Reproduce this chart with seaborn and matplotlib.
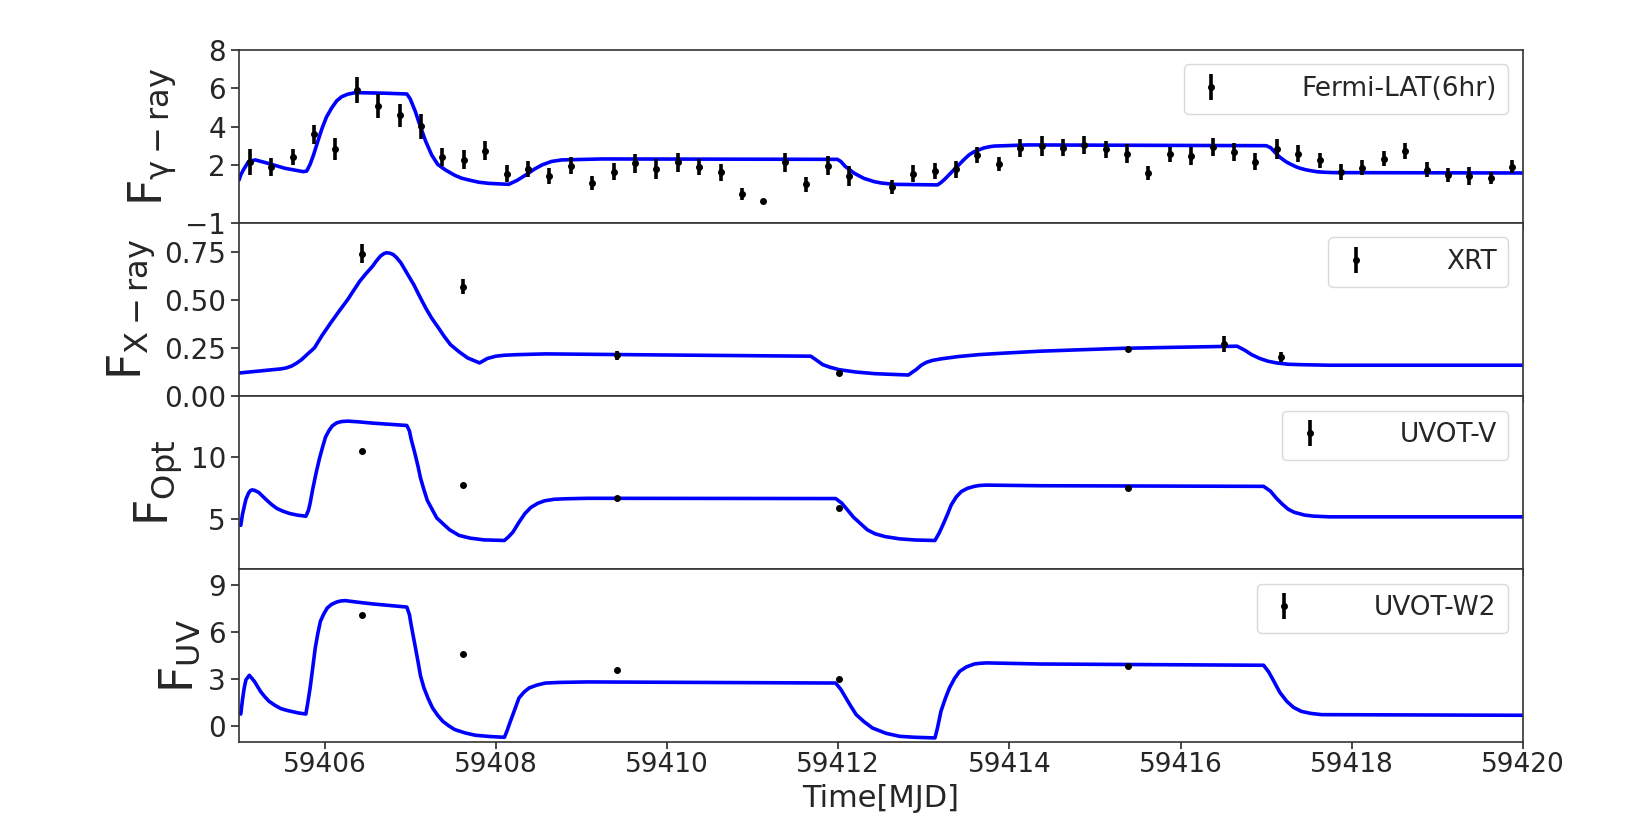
import matplotlib
matplotlib.use("Agg")
import matplotlib.pyplot as plt
import matplotlib.ticker as mticker
import seaborn as sns
import pandas as pd

# ---------------- data ----------------
fermi_t = [59405.125, 59405.375, 59405.625, 59405.875, 59406.125, 59406.375, 59406.625, 59406.875,
           59407.125, 59407.375, 59407.625, 59407.875, 59408.125, 59408.375, 59408.625, 59408.875,
           59409.125, 59409.375, 59409.625, 59409.875, 59410.125, 59410.375, 59410.625, 59410.875,
           59411.125, 59411.375, 59411.625, 59411.875, 59412.125, 59412.625, 59412.875,
           59413.125, 59413.375, 59413.625, 59413.875, 59414.125, 59414.375, 59414.625, 59414.875,
           59415.125, 59415.375, 59415.625, 59415.875, 59416.125, 59416.375, 59416.625, 59416.875,
           59417.125, 59417.375, 59417.625, 59417.875, 59418.125, 59418.375, 59418.625, 59418.875,
           59419.125, 59419.375, 59419.625, 59419.875]
fermi_f = [2.19, 1.90, 2.45, 3.61, 2.85, 5.92, 5.09, 4.60,
           4.03, 2.42, 2.30, 2.76, 1.57, 1.81, 1.44, 1.98,
           1.08, 1.67, 2.10, 1.79, 2.16, 1.91, 1.63, 0.52,
           0.13, 2.16, 1.01, 1.98, 1.44, 0.89, 1.57,
           1.70, 1.79, 2.54, 2.07, 2.88, 3.00, 2.92, 3.08,
           2.83, 2.61, 1.60, 2.57, 2.48, 2.95, 2.71, 2.19,
           2.85, 2.61, 2.26, 1.67, 1.88, 2.35, 2.75, 1.77,
           1.50, 1.46, 1.32, 1.93]
fermi_e = [0.68, 0.46, 0.42, 0.50, 0.59, 0.69, 0.64, 0.59,
           0.64, 0.47, 0.50, 0.48, 0.42, 0.40, 0.42, 0.43,
           0.38, 0.43, 0.50, 0.52, 0.49, 0.44, 0.45, 0.32,
           0.05, 0.49, 0.38, 0.50, 0.50, 0.36, 0.45,
           0.42, 0.43, 0.41, 0.35, 0.47, 0.50, 0.45, 0.47,
           0.45, 0.50, 0.35, 0.40, 0.45, 0.47, 0.47, 0.43,
           0.50, 0.43, 0.40, 0.42, 0.38, 0.40, 0.42, 0.40,
           0.38, 0.47, 0.31, 0.33]

swift_t = [59406.44, 59407.62, 59409.42, 59412.01, 59415.39, 59416.51, 59417.17]
xrt_f = [0.740, 0.569, 0.212, 0.118, 0.245, 0.271, 0.201]
xrt_e = [0.049, 0.038, 0.024, 0.015, 0.010, 0.040, 0.026]

uvot_t = [59406.44, 59407.62, 59409.42, 59412.01, 59415.39]
v_f = [10.49, 7.77, 6.74, 5.92, 7.50]
v_e = [0.15, 0.12, 0.10, 0.10, 0.10]
w2_f = [7.08, 4.58, 3.56, 2.99, 3.81]
w2_e = [0.10, 0.08, 0.07, 0.07, 0.07]

# model curves
mg_t = [59405.00, 59405.02, 59405.05, 59405.11, 59405.19, 59405.34, 59405.54, 59405.75, 59405.79,
        59405.83, 59405.87, 59405.92, 59405.97, 59406.02, 59406.08, 59406.14, 59406.20, 59406.27,
        59406.36, 59406.71, 59406.96, 59407.00, 59407.06, 59407.10, 59407.14, 59407.18, 59407.25,
        59407.32, 59407.41, 59407.52, 59407.60, 59407.68, 59407.80, 59407.92, 59408.15, 59408.25,
        59408.35, 59408.45, 59408.54, 59408.65, 59408.77, 59409.24, 59411.99, 59412.03, 59412.08,
        59412.13, 59412.19, 59412.30, 59412.42, 59412.50, 59412.65, 59413.16, 59413.20, 59413.25,
        59413.35, 59413.40, 59413.47, 59413.53, 59413.59, 59413.70, 59413.76, 59413.82, 59414.21,
        59417.00, 59417.05, 59417.12, 59417.16, 59417.23, 59417.28, 59417.35, 59417.40, 59417.47,
        59417.52, 59417.60, 59417.68, 59417.78, 59420.00]
mg_f = [1.24, 1.50, 1.76, 2.19, 2.28, 2.10, 1.84, 1.67, 1.70,
        2.05, 2.54, 3.25, 3.93, 4.50, 4.97, 5.35, 5.57, 5.70,
        5.78, 5.75, 5.71, 5.45, 4.79, 4.25, 3.75, 3.25, 2.54,
        2.05, 1.76, 1.48, 1.33, 1.24, 1.12, 1.06, 1.01, 1.22,
        1.50, 1.80, 2.02, 2.20, 2.28, 2.33, 2.31, 2.20, 1.95,
        1.78, 1.58, 1.32, 1.15, 1.08, 1.01, 0.98, 1.10, 1.30,
        1.76, 1.98, 2.30, 2.55, 2.71, 2.90, 2.96, 3.00, 3.06,
        3.02, 2.92, 2.60, 2.42, 2.19, 2.07, 1.92, 1.84, 1.76,
        1.72, 1.66, 1.64, 1.62, 1.60]

mx_t = [59405.01, 59405.49, 59405.55, 59405.61, 59405.67, 59405.73, 59405.80, 59405.88, 59405.97,
        59406.07, 59406.17, 59406.27, 59406.34, 59406.41, 59406.48, 59406.56, 59406.60, 59406.65,
        59406.69, 59406.72, 59406.76, 59406.80, 59406.84, 59406.89, 59406.96, 59407.04, 59407.11,
        59407.18, 59407.25, 59407.33, 59407.40, 59407.47, 59407.57, 59407.67, 59407.74, 59407.81,
        59407.90, 59408.00, 59408.10, 59408.25, 59408.58, 59409.79, 59411.68, 59411.75, 59411.82,
        59411.90, 59412.01, 59412.20, 59412.43, 59412.82, 59412.87, 59412.91, 59412.97, 59413.03,
        59413.10, 59413.20, 59413.40, 59413.64, 59413.90, 59414.36, 59414.80, 59415.33, 59415.90,
        59416.66, 59416.75, 59416.83, 59416.92, 59417.02, 59417.12, 59417.26, 59417.40, 59417.74,
        59420.00]
mx_f = [0.120, 0.141, 0.146, 0.155, 0.170, 0.189, 0.218, 0.250, 0.315,
        0.380, 0.442, 0.502, 0.550, 0.597, 0.635, 0.675, 0.700, 0.727,
        0.740, 0.745, 0.743, 0.736, 0.720, 0.693, 0.640, 0.580, 0.518,
        0.458, 0.405, 0.354, 0.308, 0.267, 0.230, 0.198, 0.185, 0.172,
        0.195, 0.207, 0.212, 0.215, 0.219, 0.214, 0.207, 0.185, 0.163,
        0.150, 0.137, 0.125, 0.116, 0.109, 0.125, 0.137, 0.160, 0.175,
        0.185, 0.193, 0.205, 0.215, 0.222, 0.233, 0.240, 0.248, 0.253,
        0.259, 0.238, 0.215, 0.196, 0.181, 0.172, 0.165, 0.163, 0.160,
        0.160]

mo_t = [59405.02, 59405.04, 59405.06, 59405.08, 59405.11, 59405.13, 59405.15, 59405.18, 59405.23,
        59405.27, 59405.32, 59405.38, 59405.44, 59405.51, 59405.59, 59405.68, 59405.78, 59405.81,
        59405.83, 59405.86, 59405.90, 59405.94, 59405.98, 59406.01, 59406.05, 59406.09, 59406.14,
        59406.20, 59406.27, 59406.40, 59406.56, 59406.75, 59406.96, 59406.99, 59407.01, 59407.05,
        59407.09, 59407.12, 59407.16, 59407.20, 59407.26, 59407.31, 59407.38, 59407.46, 59407.57,
        59407.70, 59407.86, 59408.10, 59408.15, 59408.20, 59408.27, 59408.34, 59408.41, 59408.49,
        59408.57, 59408.68, 59408.80, 59409.07, 59411.97, 59412.04, 59412.11, 59412.18, 59412.26,
        59412.34, 59412.43, 59412.55, 59412.72, 59412.90, 59413.13, 59413.18, 59413.23, 59413.28,
        59413.32, 59413.38, 59413.44, 59413.51, 59413.59, 59413.65, 59413.73, 59414.36, 59416.97,
        59417.05, 59417.12, 59417.19, 59417.26, 59417.33, 59417.45, 59417.55, 59417.74, 59420.00]
mo_f = [4.51, 5.40, 6.01, 6.60, 7.09, 7.28, 7.36, 7.32, 7.15,
        6.88, 6.55, 6.18, 5.87, 5.65, 5.46, 5.33, 5.24, 5.70,
        6.28, 7.40, 8.72, 9.90, 10.90, 11.60, 12.12, 12.50, 12.74,
        12.85, 12.88, 12.82, 12.72, 12.63, 12.53, 12.10, 11.44, 10.40,
        9.27, 8.30, 7.36, 6.50, 5.73, 5.10, 4.65, 4.15, 3.70,
        3.48, 3.34, 3.29, 3.60, 3.97, 4.75, 5.46, 5.95, 6.28,
        6.48, 6.60, 6.64, 6.68, 6.66, 6.30, 5.73, 5.15, 4.65,
        4.15, 3.83, 3.60, 3.42, 3.33, 3.29, 3.90, 4.65, 5.45,
        6.14, 6.80, 7.23, 7.48, 7.64, 7.71, 7.74, 7.69, 7.64,
        7.25, 6.68, 6.20, 5.79, 5.55, 5.33, 5.25, 5.19, 5.19]

mu_t = [59405.02, 59405.04, 59405.06, 59405.08, 59405.12, 59405.18, 59405.25, 59405.30, 59405.35,
        59405.42, 59405.49, 59405.56, 59405.64, 59405.70, 59405.78, 59405.80, 59405.83, 59405.86,
        59405.89, 59405.92, 59405.95, 59405.99, 59406.03, 59406.08, 59406.14, 59406.19, 59406.24,
        59406.40, 59406.56, 59406.76, 59406.96, 59406.99, 59407.01, 59407.05, 59407.09, 59407.12,
        59407.16, 59407.21, 59407.26, 59407.32, 59407.38, 59407.45, 59407.52, 59407.64, 59407.76,
        59407.93, 59408.10, 59408.13, 59408.17, 59408.22, 59408.27, 59408.33, 59408.39, 59408.48,
        59408.58, 59408.75, 59409.07, 59411.97, 59412.03, 59412.09, 59412.15, 59412.21, 59412.30,
        59412.40, 59412.56, 59412.72, 59412.90, 59413.13, 59413.16, 59413.20, 59413.25, 59413.30,
        59413.36, 59413.42, 59413.50, 59413.59, 59413.65, 59413.73, 59414.36, 59416.97, 59417.03,
        59417.09, 59417.16, 59417.24, 59417.32, 59417.41, 59417.52, 59417.65, 59420.00]
mu_f = [0.78, 1.70, 2.44, 2.95, 3.24, 2.85, 2.22, 1.88, 1.59,
        1.33, 1.12, 1.01, 0.91, 0.84, 0.78, 1.40, 2.44, 3.70,
        4.98, 5.90, 6.67, 7.15, 7.52, 7.75, 7.90, 7.97, 7.99,
        7.88, 7.78, 7.68, 7.58, 7.10, 6.46, 5.30, 4.13, 3.20,
        2.44, 1.75, 1.17, 0.70, 0.32, 0.03, -0.21, -0.42, -0.57,
        -0.65, -0.70, -0.30, 0.32, 1.05, 1.80, 2.18, 2.44, 2.62,
        2.75, 2.79, 2.82, 2.75, 2.35, 1.80, 1.25, 0.74, 0.30,
        -0.11, -0.45, -0.64, -0.70, -0.74, -0.10, 0.95, 1.75, 2.44,
        3.05, 3.50, 3.78, 3.96, 4.00, 4.03, 3.96, 3.88, 3.45,
        2.86, 2.15, 1.59, 1.20, 0.95, 0.82, 0.74, 0.70]

labels = ["Fermi-LAT(6hr)", "XRT", "UVOT-V", "UVOT-W2"]
ylabels = [r"$F_{\gamma-ray}$", r"$F_{X-ray}$", r"$F_{Opt}$", r"$F_{UV}$"]
yticks = [[-1, 2, 4, 6, 8], [0.0, 0.25, 0.5, 0.75], [5, 10], [0, 3, 6, 9]]
ylims = [(-1, 8), (0, 0.9), (1, 14.9), (-1, 10)]
xticks = [59406, 59408, 59410, 59412, 59414, 59416, 59418, 59420]

# ---------------- plot ----------------
sns.set_style("ticks")
plt.rcParams["font.family"] = ["DejaVu Sans"]
plt.rcParams["mathtext.default"] = "regular"

fig, axes = plt.subplots(4, 1, sharex=True, figsize=(16.42, 8.19), dpi=100)
fig.subplots_adjust(left=0.1456, right=0.9275, top=0.939, bottom=0.094, hspace=0)

models = [(mg_t, mg_f), (mx_t, mx_f), (mo_t, mo_f), (mu_t, mu_f)]
obs = [(fermi_t, fermi_f, fermi_e), (swift_t, xrt_f, xrt_e), (uvot_t, v_f, v_e), (uvot_t, w2_f, w2_e)]

for i, ax in enumerate(axes):
    mt, mf = models[i]
    dfm = pd.DataFrame({"t": mt, "f": mf})
    sns.lineplot(data=dfm, x="t", y="f", ax=ax, color="#0000ff", lw=2.6,
                 sort=False, estimator=None, legend=False)
    ot, of, oe = obs[i]
    ax.errorbar(ot, of, yerr=oe, fmt="o", color="black", ms=4, elinewidth=2.6,
                capsize=0, label=labels[i], zorder=3)
    ax.set_ylim(*ylims[i])
    ax.set_yticks(yticks[i])
    ax.set_ylabel(ylabels[i], fontsize=33, labelpad=4)
    ax.set_xlabel("")
    ax.tick_params(axis="y", labelsize=20, length=6, width=1.2, direction="out")
    ax.tick_params(axis="x", labelsize=19, length=5, width=1.2, pad=2.5, direction="out")
    for s in ax.spines.values():
        s.set_color("#333333")
        s.set_linewidth(1.2)
    ax.legend(loc="upper right", fontsize=19, handletextpad=2.8, handlelength=1.2,
              borderpad=0.45, borderaxespad=0.55, framealpha=1.0, edgecolor="#d9d9d9")

axes[1].yaxis.set_major_formatter(mticker.FormatStrFormatter("%.2f"))
axes[-1].set_xlim(59405, 59420)
axes[-1].set_xticks(xticks)
axes[-1].set_xticklabels([str(x) for x in xticks])
axes[-1].set_xlabel("Time[MJD]", fontsize=22)
axes[-1].xaxis.set_label_coords(0.5, -0.245)

fig.savefig("out.png", dpi=100)
